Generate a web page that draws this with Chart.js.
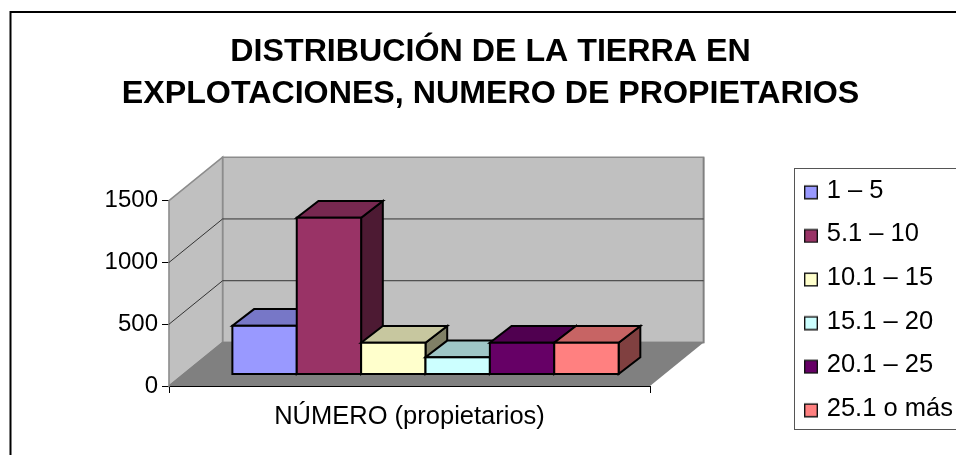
<!DOCTYPE html>
<html>
<head>
<meta charset="utf-8">
<script src="https://cdn.jsdelivr.net/npm/chart.js@4"></script>
<style>html,body{margin:0;padding:0;background:#fff;overflow:hidden}canvas{display:block}</style>
</head>
<body>
<canvas id="c" width="956" height="455"></canvas>
<script>
const titleLines = ["DISTRIBUCIÓN DE LA TIERRA EN", "EXPLOTACIONES, NUMERO DE PROPIETARIOS"];
const categories = ["NÚMERO (propietarios)"];
const seriesNames = ["1 – 5", "5.1 – 10", "10.1 – 15", "15.1 – 20", "20.1 – 25", "25.1 o más"];
const seriesValues = [390, 1265, 253, 135, 253, 253];
const seriesColors = ["#9999FF", "#993366", "#FFFFCC", "#CCFFFF", "#660066", "#FF8080"];
const yMax = 1500;
const yStep = 500;

const FONT = "'Liberation Sans', Arial, sans-serif";
const WALL = {dx: 53.6, dy: -43.5};
const BAR_SHIFT = {dx: 16, dy: -12};
const BAR_DEPTH = {dx: 21.7, dy: -16.7};

function shade(hex, k) {
  const n = parseInt(hex.slice(1), 16);
  const c = [n >> 16 & 255, n >> 8 & 255, n & 255].map(v => Math.round(v * k));
  return `rgb(${c[0]},${c[1]},${c[2]})`;
}
function poly(ctx, pts, fill, stroke, lw) {
  ctx.beginPath();
  pts.forEach((p, i) => i ? ctx.lineTo(p[0], p[1]) : ctx.moveTo(p[0], p[1]));
  ctx.closePath();
  if (fill) { ctx.fillStyle = fill; ctx.fill(); }
  if (stroke) { ctx.strokeStyle = stroke; ctx.lineWidth = lw; ctx.lineJoin = 'miter'; ctx.stroke(); }
}
function legendSwatch(color) {
  const cv = document.createElement('canvas');
  cv.width = 14; cv.height = 18;
  const g = cv.getContext('2d');
  g.fillStyle = color; g.fillRect(0.7, 4.2, 12.6, 12.6);
  g.strokeStyle = '#111'; g.lineWidth = 1.4; g.strokeRect(0.7, 4.2, 12.6, 12.6);
  return cv;
}

const scene3d = {
  id: 'scene3d',
  afterLayout(chart) {
    const t = chart.titleBlock;
    t.left = 25; t.right = 956;
    const l = chart.legend;
    l.maxHeight = 300; l.maxWidth = 175;
    l.fit();
    l.left = 789.9; l.top = 160; l.right = 965; l.bottom = 445;
    l.width = l.right - l.left; l.height = l.bottom - l.top;
    l.adjustHitBoxes();
  },
  beforeDraw(chart) {
    const ctx = chart.ctx;
    ctx.save();
    ctx.fillStyle = '#fff';
    ctx.fillRect(0, 0, chart.width, chart.height);
    ctx.strokeStyle = '#000'; ctx.lineWidth = 2;
    ctx.beginPath();
    ctx.moveTo(10.5, 460); ctx.lineTo(10.5, 12); ctx.lineTo(960, 12);
    ctx.stroke();
    ctx.restore();
  },
  beforeDatasetsDraw(chart) {
    const ctx = chart.ctx, a = chart.chartArea, y = chart.scales.y;
    const L = a.left, R = a.right, B = y.getPixelForValue(0), T = y.getPixelForValue(yMax);
    const dx = WALL.dx, dy = WALL.dy;
    ctx.save();
    poly(ctx, [[L + dx, T + dy], [R + dx, T + dy], [R + dx, B + dy], [L + dx, B + dy]], '#C0C0C0', '#8C8C8C', 1.6);
    poly(ctx, [[L, T], [L + dx, T + dy], [L + dx, B + dy], [L, B]], '#C0C0C0', '#8C8C8C', 1.6);
    poly(ctx, [[L, B], [R, B], [R + dx, B + dy], [L + dx, B + dy]], '#808080');
    ctx.strokeStyle = '#808080'; ctx.lineWidth = 1.6;
    ctx.beginPath(); ctx.moveTo(L, B); ctx.lineTo(L + dx, B + dy); ctx.lineTo(R + dx, B + dy); ctx.lineTo(R + dx, T + dy); ctx.stroke();
    ctx.strokeStyle = '#333'; ctx.lineWidth = 1;
    for (let v = yStep; v < yMax; v += yStep) {
      const p = y.getPixelForValue(v);
      ctx.beginPath(); ctx.moveTo(L, p); ctx.lineTo(L + dx, p + dy); ctx.lineTo(R + dx, p + dy); ctx.stroke();
    }
    ctx.restore();
    // painter's order: left-most bar first, each with its 3D faces
    const bot = B, bx = BAR_DEPTH.dx, by = BAR_DEPTH.dy;
    seriesColors.forEach((color, i) => {
      const meta = chart.getDatasetMeta(i);
      const b = meta.data[0].getProps(['x', 'y', 'width'], true);
      const x0 = b.x - b.width / 2, x1 = b.x + b.width / 2, top = b.y;
      ctx.save();
      ctx.translate(BAR_SHIFT.dx, BAR_SHIFT.dy);
      poly(ctx, [[x1, top], [x1 + bx, top + by], [x1 + bx, bot + by], [x1, bot]], shade(color, 0.5), '#000', 2);
      poly(ctx, [[x0, top], [x1, top], [x1 + bx, top + by], [x0 + bx, top + by]], shade(color, 0.78), '#000', 2);
      meta.controller.draw();
      ctx.strokeStyle = '#000'; ctx.lineWidth = 2; ctx.lineJoin = 'miter';
      ctx.strokeRect(x0, top, b.width, bot - top);
      ctx.restore();
    });
    return false;
  },
  afterDraw(chart) {
    const ctx = chart.ctx;
    ctx.save();
    ctx.strokeStyle = '#555'; ctx.lineWidth = 1;
    ctx.strokeRect(794.5, 168.5, 180, 261);
    ctx.restore();
  }
};

new Chart(document.getElementById('c'), {
  type: 'bar',
  data: {
    labels: categories,
    datasets: seriesNames.map((name, i) => ({
      label: name,
      data: [seriesValues[i]],
      backgroundColor: seriesColors[i],
      borderWidth: 0,
      clip: false,
      categoryPercentage: 0.803,
      barPercentage: 1
    }))
  },
  plugins: [scene3d],
  options: {
    responsive: false,
    animation: false,
    events: [],
    layout: {padding: {left: 0, top: 0, right: 306, bottom: 0}},
    plugins: {
      tooltip: {enabled: false},
      title: {
        display: true,
        text: titleLines,
        color: '#000',
        font: {family: FONT, size: 32.2, weight: 'bold', lineHeight: 1.304},
        padding: {top: 31, bottom: 85.7}
      },
      legend: {
        display: true,
        position: 'chartArea',
        align: 'start',
        labels: {
          color: '#000',
          font: {family: FONT, size: 25.5},
          padding: 18.1,
          usePointStyle: true,
          pointStyleWidth: 6,
          boxHeight: 14,
          generateLabels(chart) {
            return Chart.defaults.plugins.legend.labels.generateLabels(chart).map((it, i) => {
              it.pointStyle = legendSwatch(seriesColors[i]);
              return it;
            });
          }
        }
      }
    },
    scales: {
      x: {
        type: 'category',
        offset: true,
        afterFit(s) { s.height = 69; },
        border: {display: true, color: '#000', width: 1},
        grid: {display: true, offset: true, drawOnChartArea: false, drawTicks: true, tickLength: 7, tickColor: '#000', color: '#000'},
        ticks: {color: '#000', font: {family: FONT, size: 25.5}, padding: 9, maxRotation: 0}
      },
      y: {
        type: 'linear',
        min: 0,
        max: yMax,
        afterFit(s) { s.width = 169; },
        border: {display: false},
        grid: {display: true, drawOnChartArea: false, drawTicks: true, tickLength: 7, tickColor: '#000', color: '#000'},
        ticks: {color: '#000', stepSize: yStep, font: {family: FONT, size: 24}, padding: 4, callback: v => String(v)}
      }
    }
  }
});
</script>
</body>
</html>
